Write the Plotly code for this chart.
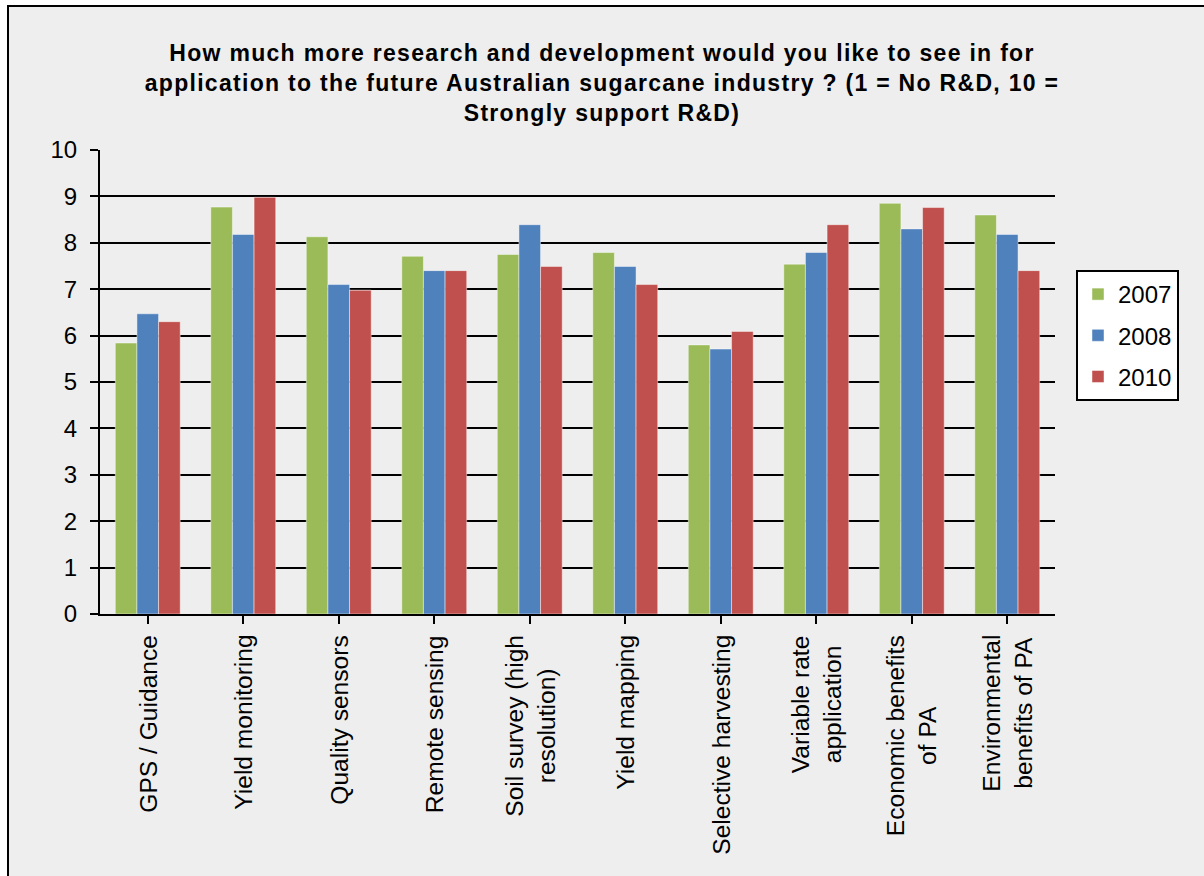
import plotly.graph_objects as go

categories = ["GPS / Guidance", "Yield monitoring", "Quality sensors", "Remote sensing",
              "Soil survey (high<br>resolution)", "Yield mapping", "Selective harvesting",
              "Variable rate<br>application", "Economic benefits<br>of PA",
              "Environmental<br>benefits of PA"]
v2007 = [5.84, 8.77, 8.13, 7.71, 7.75, 7.79, 5.80, 7.54, 8.85, 8.60]
v2008 = [6.47, 8.18, 7.10, 7.40, 8.39, 7.49, 5.71, 7.79, 8.30, 8.18]
v2010 = [6.30, 8.98, 6.98, 7.40, 7.49, 7.10, 6.09, 8.39, 8.76, 7.40]
series_names = ["2007", "2008", "2010"]
colors = ["#9BBB59", "#4F81BD", "#C0504D"]
y_ticks = list(range(0, 11))

FONT = "Liberation Sans, Arial, sans-serif"
cat_ids = list(range(len(categories)))

fig = go.Figure()
for name, vals, col in zip(series_names, [v2007, v2008, v2010], colors):
    fig.add_trace(go.Bar(
        x=cat_ids, y=vals, name=name, legendgroup=name,
        marker=dict(color=col, line=dict(color="rgba(255,255,255,0.45)", width=1)),
    ))

# category labels as annotations (rotated, centered lines)
for i, lab in enumerate(categories):
    fig.add_annotation(x=i, y=0, xref="x", yref="paper", text=lab, textangle=-90,
                       showarrow=False, yanchor="top", xanchor="center", yshift=-19,
                       align="center", font=dict(family=FONT, size=24.6, color="black"))

# outer frame
W, H = 1204, 876
L, R, T, B = 100, 1055, 150, 614
pw, ph = R - L, B - T
def px(xp):
    return (xp - L) / pw
def py(yp):
    return (B - yp) / ph
fig.add_shape(type="rect", xref="paper", yref="paper", layer="below",
              x0=px(8), x1=px(1220), y0=py(900), y1=py(6),
              fillcolor="#EEEEEE", line=dict(color="black", width=2))

fig.update_layout(
    width=W, height=H,
    margin=dict(l=L, r=W - R, t=T, b=H - B, pad=0),
    paper_bgcolor="white", plot_bgcolor="rgba(0,0,0,0)",
    barmode="group", bargap=0.32, bargroupgap=0,
    font=dict(family=FONT, size=24, color="black"),
    title=dict(
        text="<b>How much more research and development would you like to see in for<br>"
             "application to the future Australian sugarcane industry ? (1 = No R&D, 10 =<br>"
             "Strongly support R&D)</b>",
        x=0.5, xref="container", xanchor="center",
        y=1 - 61 / H, yref="container", yanchor="middle",
        font=dict(family=FONT, size=23, color="black"),
    ),
    xaxis=dict(
        range=[-0.5, len(categories) - 0.5], tickmode="array", tickvals=cat_ids,
        showticklabels=False, ticks="outside", tickson="boundaries", ticklen=8,
        tickwidth=2, tickcolor="black", showline=True, linecolor="black", linewidth=2,
        showgrid=False, zeroline=False,
    ),
    yaxis=dict(
        range=[0, 10], tickmode="array", tickvals=y_ticks, ticktext=[str(t) for t in y_ticks],
        ticks="outside", ticklen=8, tickwidth=2, tickcolor="black",
        showline=True, linecolor="black", linewidth=2, mirror=False,
        showgrid=True, gridcolor="black", gridwidth=2, zeroline=False,
        ticklabelstandoff=8, tickfont=dict(size=24),
    ),
    legend=dict(
        x=px(1076), y=py(270), xanchor="left", yanchor="top",
        bgcolor="white", bordercolor="black", borderwidth=2,
        font=dict(family=FONT, size=24), tracegroupgap=7,
        itemwidth=30,
    ),
    showlegend=True,
)

post = ("document.body.style.margin='0';"
        "document.querySelectorAll('.gtitle').forEach(function(t){t.style.letterSpacing='1.3px';});")
fig.write_html("out.html", post_script=post, config={"displayModeBar": False})
